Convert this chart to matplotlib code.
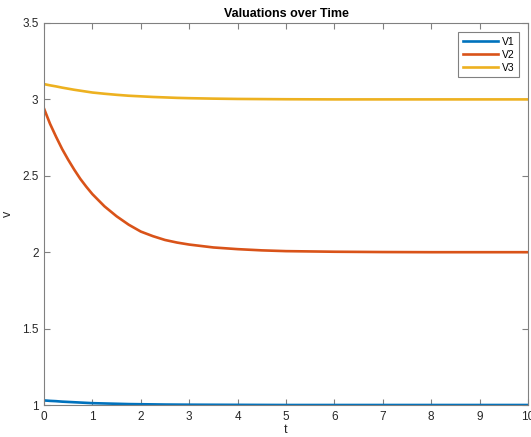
import matplotlib
matplotlib.use('Agg')
import matplotlib.pyplot as plt

# time samples and the three valuation series
t = [0, 0.125, 0.25, 0.375, 0.5, 0.625, 0.75, 0.875, 1, 1.25, 1.5, 1.75, 2, 2.25, 2.5,
     2.75, 3, 3.5, 4, 4.5, 5, 6, 7, 8, 9, 10]
v1 = [1.03, 1.027, 1.025, 1.022, 1.02, 1.018, 1.016, 1.014, 1.012, 1.01, 1.008, 1.006,
      1.005, 1.004, 1.003, 1.0025, 1.002, 1.0015, 1.001, 1.0005, 1.0, 1.0, 1.0, 1.0, 1.0, 1.0]
v2 = [2.94, 2.84, 2.755, 2.675, 2.605, 2.54, 2.48, 2.428, 2.38, 2.30, 2.235, 2.18,
      2.135, 2.105, 2.08, 2.063, 2.05, 2.031, 2.02, 2.012, 2.007, 2.003, 2.001, 2.0, 2.0, 2.0]
v3 = [3.10, 3.092, 3.085, 3.077, 3.07, 3.063, 3.057, 3.051, 3.045, 3.037, 3.03, 3.024,
      3.02, 3.016, 3.013, 3.01, 3.008, 3.005, 3.003, 3.002, 3.001, 3.0, 3.0, 3.0, 3.0, 3.0]
labels = ['V1', 'V2', 'V3']
colors = ['#0072BD', '#D95319', '#EDB120']

plt.rcParams['font.family'] = ['Liberation Sans', 'DejaVu Sans']

fig = plt.figure(figsize=(5.31, 4.37), dpi=100)
ax = fig.add_axes([44 / 531, 32 / 437, 484 / 531, 382 / 437])

for y, lab, c in zip([v1, v2, v3], labels, colors):
    ax.plot(t, y, color=c, lw=1.9, label=lab)

ax.set_xlim(0, 10)
ax.set_ylim(1, 3.5)
ax.set_xticks(range(0, 11))
ax.set_yticks([1, 1.5, 2, 2.5, 3, 3.5])
ax.set_yticklabels(['1', '1.5', '2', '2.5', '3', '3.5'])

for s in ax.spines.values():
    s.set_color('#808080')
    s.set_linewidth(0.8)
ax.tick_params(direction='in', length=4, width=0.8, color='#808080',
               top=True, right=True, labelsize=8.5, labelcolor='#262626', pad=4)

ax.set_xlabel('t', fontsize=9, color='#262626', labelpad=1)
ax.set_ylabel('v', fontsize=9, color='#262626', labelpad=6)
ax.set_title('Valuations over Time', fontsize=9, fontweight='bold', pad=4)

leg = ax.legend(loc='upper right', fontsize=7.5, fancybox=False, framealpha=1,
                edgecolor='#808080', handlelength=3.4, borderpad=0.45,
                labelspacing=0.3, handletextpad=0.35, borderaxespad=0.85)
leg.get_frame().set_linewidth(0.8)

fig.savefig('out.png', dpi=100)
